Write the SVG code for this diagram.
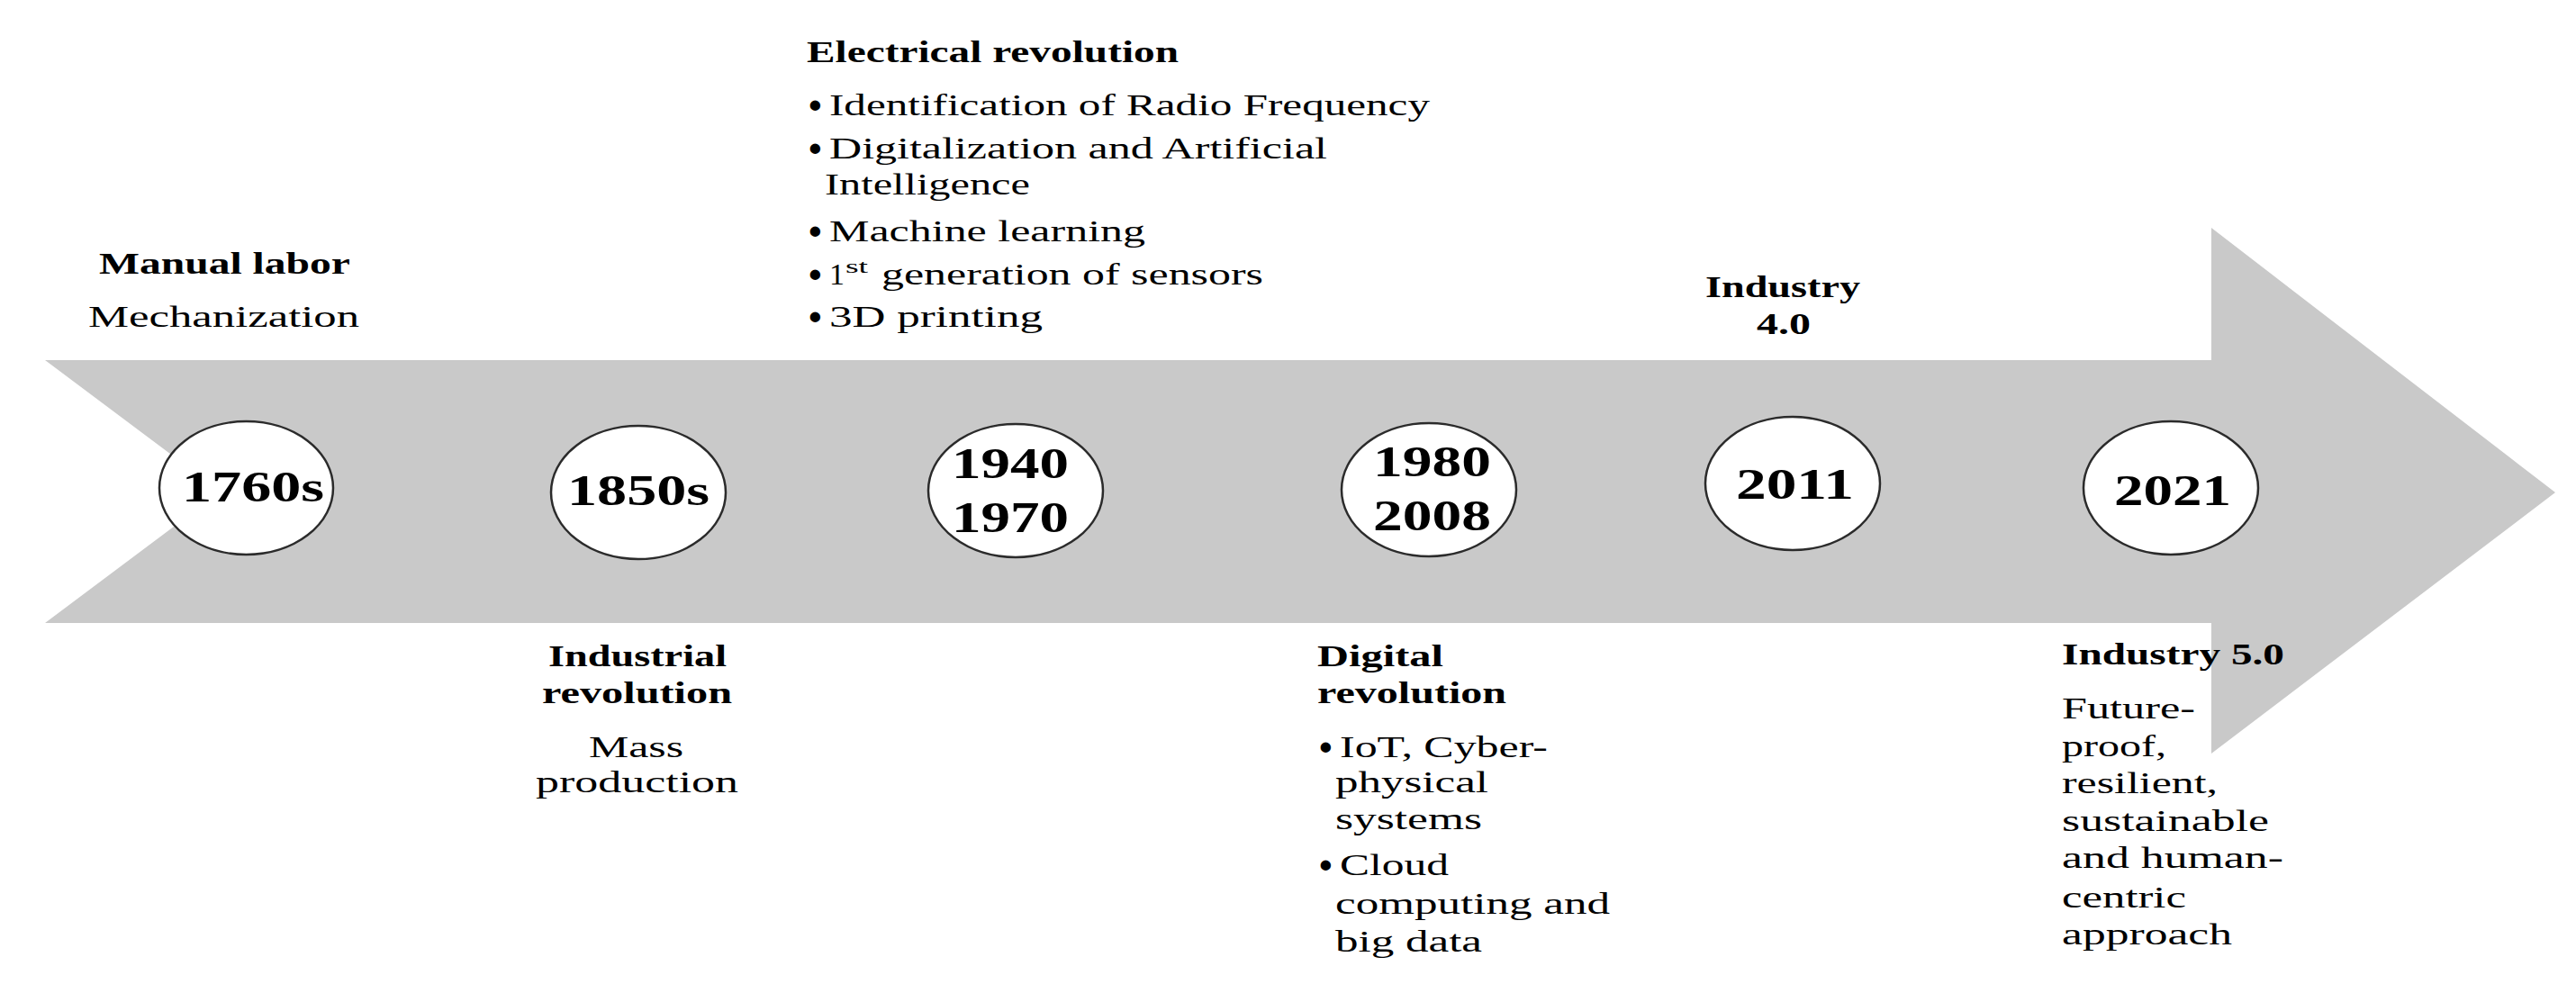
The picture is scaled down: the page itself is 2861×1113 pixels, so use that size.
<svg xmlns="http://www.w3.org/2000/svg" width="2861" height="1113" viewBox="0 0 2861 1113">
<style>
text { font-family: "Liberation Serif", "DejaVu Serif", serif; fill: #000; }
.lbl { font-size: 33px; }
.b { font-weight: bold; }
.yr { font-size: 48px; font-weight: bold; text-anchor: start; }
.bul { font-size: 42px; font-weight: bold; }
.sup { font-size: 20px; }
.node { fill: #fff; stroke: #2b2b2b; stroke-width: 2.5; }
.arrow { fill: #c9c9c9; }
</style>
<rect width="2861" height="1113" fill="#fff"/>

<g id="connectors">
  <polygon class="arrow" points="50,400 2456,400 2456,253 2838,547 2456,837 2456,692 50,692 245,546"/>
</g>

<g id="node-1760s">
  <ellipse class="node" cx="273.5" cy="542" rx="96.5" ry="74"/>
  <text class="yr" x="202" y="557" textLength="158" lengthAdjust="spacingAndGlyphs">1760s</text>
</g>
<g id="node-1850s">
  <ellipse class="node" cx="709" cy="547" rx="97" ry="74"/>
  <text class="yr" x="630" y="561" textLength="158" lengthAdjust="spacingAndGlyphs">1850s</text>
</g>
<g id="node-1940-1970">
  <ellipse class="node" cx="1128" cy="545" rx="97" ry="74"/>
  <text class="yr" x="1057" y="531" textLength="130" lengthAdjust="spacingAndGlyphs">1940</text>
  <text class="yr" x="1057" y="591" textLength="130" lengthAdjust="spacingAndGlyphs">1970</text>
</g>
<g id="node-1980-2008">
  <ellipse class="node" cx="1587" cy="544" rx="97" ry="74"/>
  <text class="yr" x="1525" y="529" textLength="131" lengthAdjust="spacingAndGlyphs">1980</text>
  <text class="yr" x="1525" y="589" textLength="131" lengthAdjust="spacingAndGlyphs">2008</text>
</g>
<g id="node-2011">
  <ellipse class="node" cx="1991" cy="537" rx="97" ry="74"/>
  <text class="yr" x="1928" y="554" textLength="131" lengthAdjust="spacingAndGlyphs">2011</text>
</g>
<g id="node-2021">
  <ellipse class="node" cx="2411" cy="542" rx="97" ry="74"/>
  <text class="yr" x="2348" y="561" textLength="130" lengthAdjust="spacingAndGlyphs">2021</text>
</g>

<g id="label-manual-labor">
  <text class="lbl b" x="110" y="304" textLength="279" lengthAdjust="spacingAndGlyphs">Manual labor</text>
  <text class="lbl" x="98" y="363" textLength="301" lengthAdjust="spacingAndGlyphs">Mechanization</text>
</g>

<g id="label-electrical-revolution">
  <text class="lbl b" x="896" y="69" textLength="413" lengthAdjust="spacingAndGlyphs">Electrical revolution</text>
  <text class="bul" x="898" y="131">•</text>
  <text class="lbl" x="921" y="128" textLength="667" lengthAdjust="spacingAndGlyphs">Identification of Radio Frequency</text>
  <text class="bul" x="898" y="179">•</text>
  <text class="lbl" x="921" y="176" textLength="553" lengthAdjust="spacingAndGlyphs">Digitalization and Artificial</text>
  <text class="lbl" x="916" y="216" textLength="228" lengthAdjust="spacingAndGlyphs">Intelligence</text>
  <text class="bul" x="898" y="271">•</text>
  <text class="lbl" x="921" y="268" textLength="351" lengthAdjust="spacingAndGlyphs">Machine learning</text>
  <text class="bul" x="898" y="319">•</text>
  <text class="lbl" x="921" y="316" textLength="17" lengthAdjust="spacingAndGlyphs">1</text>
  <text class="sup" x="939" y="303" textLength="25" lengthAdjust="spacingAndGlyphs">st</text>
  <text class="lbl" x="979" y="316" textLength="424" lengthAdjust="spacingAndGlyphs">generation of sensors</text>
  <text class="bul" x="898" y="366">•</text>
  <text class="lbl" x="921" y="363" textLength="237" lengthAdjust="spacingAndGlyphs">3D printing</text>
</g>

<g id="label-industrial-revolution">
  <text class="lbl b" x="609" y="740" textLength="198" lengthAdjust="spacingAndGlyphs">Industrial</text>
  <text class="lbl b" x="602" y="781" textLength="211" lengthAdjust="spacingAndGlyphs">revolution</text>
  <text class="lbl" x="654" y="841" textLength="105" lengthAdjust="spacingAndGlyphs">Mass</text>
  <text class="lbl" x="595" y="880" textLength="225" lengthAdjust="spacingAndGlyphs">production</text>
</g>

<g id="label-digital-revolution">
  <text class="lbl b" x="1463" y="740" textLength="140" lengthAdjust="spacingAndGlyphs">Digital</text>
  <text class="lbl b" x="1463" y="781" textLength="210" lengthAdjust="spacingAndGlyphs">revolution</text>
  <text class="bul" x="1465" y="844">•</text>
  <text class="lbl" x="1488" y="841" textLength="231" lengthAdjust="spacingAndGlyphs">IoT, Cyber-</text>
  <text class="lbl" x="1483" y="880" textLength="170" lengthAdjust="spacingAndGlyphs">physical</text>
  <text class="lbl" x="1483" y="921" textLength="163" lengthAdjust="spacingAndGlyphs">systems</text>
  <text class="bul" x="1465" y="975">•</text>
  <text class="lbl" x="1488" y="972" textLength="121" lengthAdjust="spacingAndGlyphs">Cloud</text>
  <text class="lbl" x="1483" y="1015" textLength="305" lengthAdjust="spacingAndGlyphs">computing and</text>
  <text class="lbl" x="1483" y="1057" textLength="163" lengthAdjust="spacingAndGlyphs">big data</text>
</g>

<g id="label-industry-4">
  <text class="lbl b" x="1894" y="330" textLength="172" lengthAdjust="spacingAndGlyphs">Industry</text>
  <text class="lbl b" x="1951" y="371" textLength="60" lengthAdjust="spacingAndGlyphs">4.0</text>
</g>

<g id="label-industry-5">
  <text class="lbl b" x="2290" y="738" textLength="247" lengthAdjust="spacingAndGlyphs">Industry 5.0</text>
  <text class="lbl" x="2290" y="798" textLength="148" lengthAdjust="spacingAndGlyphs">Future-</text>
  <text class="lbl" x="2290" y="840" textLength="116" lengthAdjust="spacingAndGlyphs">proof,</text>
  <text class="lbl" x="2290" y="881" textLength="173" lengthAdjust="spacingAndGlyphs">resilient,</text>
  <text class="lbl" x="2290" y="923" textLength="230" lengthAdjust="spacingAndGlyphs">sustainable</text>
  <text class="lbl" x="2290" y="964" textLength="246" lengthAdjust="spacingAndGlyphs">and human-</text>
  <text class="lbl" x="2290" y="1008" textLength="138" lengthAdjust="spacingAndGlyphs">centric</text>
  <text class="lbl" x="2290" y="1049" textLength="189" lengthAdjust="spacingAndGlyphs">approach</text>
</g>
</svg>
